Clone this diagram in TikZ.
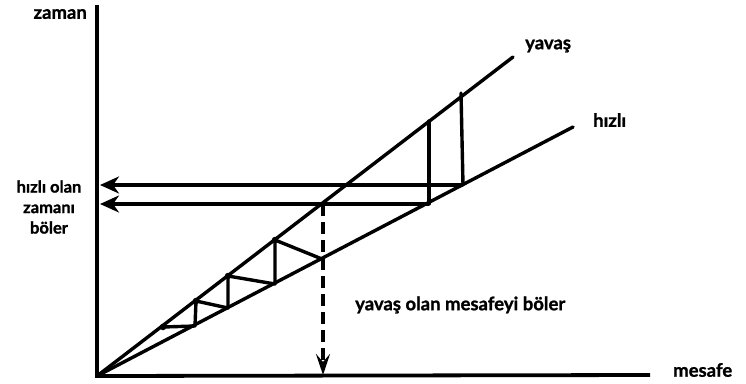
\documentclass[tikz,border=0pt]{standalone}
\usepackage{fontspec}
\setmainfont{Lato}[BoldFeatures={FakeBold=1.2}]
\usetikzlibrary{arrows.meta}
\begin{document}
\begin{tikzpicture}[x=1pt,y=-1pt,
  ln/.style={line width=3.4pt, line cap=round},
  axis/.style={line width=3.8pt},
  lbl/.style={font=\bfseries\fontsize{18.5}{20}\selectfont, inner sep=0pt},
  lbls/.style={font=\bfseries\fontsize{16.5}{20.5}\selectfont, inner sep=0pt},
  harr/.style={line width=3.4pt, -{Stealth[length=19pt,width=17pt,inset=6pt]}},
  varr/.style={line width=3.2pt, dash pattern=on 12pt off 6pt, -{Stealth[length=21pt,width=14pt,inset=8pt]}},
  dot/.style={circle, fill=black, inner sep=0pt, minimum size=6.5pt}]
\useasboundingbox (0,0) rectangle (746,383);
% axes
\coordinate (O) at (97,376);
\coordinate (ytop) at (97,5);
\coordinate (xend) at (650,375);
\draw[axis] (ytop) -- (O) -- (xend);
% lines
\coordinate (Y) at (513,57);
\coordinate (H) at (573,127);
\draw[ln] (O) -- (Y);
\draw[ln] (O) -- (H);
% verticals at right
\coordinate (h1) at (463,185);
\coordinate (y1) at (461,93);
\coordinate (h2) at (429,204);
\coordinate (y2) at (429,121);
\draw[ln] (h1) -- (y1);
\draw[ln] (h2) -- (y2);
% horizontal arrows
\coordinate (a1) at (100,185);
\coordinate (a2) at (100,204);
\draw[harr] (h1) -- (a1);
\draw[harr] (h2) -- (a2);
% zigzag
\coordinate (z0) at (163,327);
\coordinate (z1) at (195,326);
\coordinate (z2) at (196,301);
\coordinate (z3) at (228,308);
\coordinate (z4) at (228,276);
\coordinate (z5) at (275,284);
\coordinate (z6) at (275,240);
\coordinate (z7) at (322,259);
\draw[ln, line join=round] (z0) -- (z1) -- (z2) -- (z3) -- (z4) -- (z5) -- (z6) -- (z7);
\node[dot] at (z0) {};
\node[dot] at (z2) {};
\node[dot] at (z4) {};
\node[dot] at (z6) {};
% dashed arrow
\coordinate (d0) at (323,204);
\coordinate (d1) at (323,375);
\draw[varr] (d0) -- (d1);
% labels
\node[lbl, anchor=east] (lz) at (87,14) {zaman};
\node[lbl, anchor=west] (ly) at (525,46) {yavaş};
\node[lbl, anchor=west] (lh) at (593,120) {hızlı};
\node[lbls, align=center, anchor=center] (lhz) at (49,207) {hızlı olan\\zamanı\\böler};
\node[lbl, anchor=west] (lm) at (355,305) {yavaş olan mesafeyi böler};
\node[lbl, anchor=west] (lx) at (673,370) {mesafe};
\end{tikzpicture}
\end{document}
